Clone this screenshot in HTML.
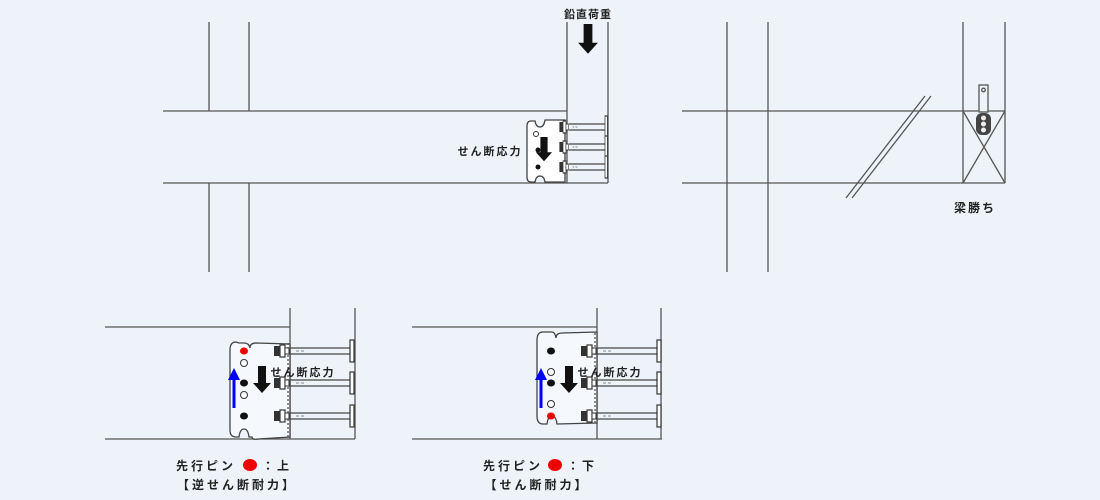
<!DOCTYPE html>
<html><head><meta charset="utf-8"><style>
html,body{margin:0;padding:0;background:#eef3fa;}
svg{display:block}
text{font-family:"Liberation Sans","Noto Sans CJK JP",sans-serif;fill:#222;font-weight:bold;}
</style></head><body>
<svg width="1100" height="500" viewBox="0 0 1100 500" xmlns="http://www.w3.org/2000/svg">
<defs>
<g id="bolt">
 <rect x="-16" y="-5" width="6" height="10" fill="#333"/>
 <rect x="-10" y="-6" width="5" height="12" fill="#fff" stroke="#333" stroke-width="1.2"/>
 <rect x="-5" y="-3" width="4" height="6" fill="#fff" stroke="#333" stroke-width="1"/>
 <line x1="0" y1="-3" x2="60" y2="-3" stroke="#444" stroke-width="1.2"/>
 <line x1="0" y1="3" x2="60" y2="3" stroke="#444" stroke-width="1.2"/>
 <line x1="6" y1="0" x2="16" y2="0" stroke="#666" stroke-width="0.8" stroke-dasharray="3,2"/>
 <rect x="60" y="-11" width="4" height="22" fill="#fff" stroke="#333" stroke-width="1.2"/>
</g>
<g id="barrow"><polygon points="-4,0 4,0 4,17 9,17 0,27 -9,17 -4,17" fill="#111"/></g>
</defs>
<g stroke="#555" stroke-width="1.3" fill="none">
 <line x1="209" y1="22" x2="209" y2="111"/><line x1="249" y1="22" x2="249" y2="111"/>
 <line x1="209" y1="183" x2="209" y2="272"/><line x1="249" y1="183" x2="249" y2="272"/>
 <line x1="163" y1="111" x2="567" y2="111"/><line x1="163" y1="183" x2="608" y2="183"/>
 <line x1="567" y1="22" x2="567" y2="183"/><line x1="608" y1="22" x2="608" y2="183"/>
 <path d="M531,121 Q527,121 527,126 L527,177 Q527,182 531,182 L535,182 Q536,176 540,176 Q544,176 545,182 L565,182 L565,120 L545,120 Q544,127 540,127 Q536,127 535,121 Z" fill="#fff" stroke="#444"/>
 <line x1="565" y1="121" x2="565" y2="182" stroke-dasharray="2,2"/>
 <line x1="727" y1="22" x2="727" y2="272"/><line x1="768" y1="22" x2="768" y2="272"/>
 <line x1="682" y1="111" x2="1005" y2="111"/><line x1="682" y1="183" x2="1005" y2="183"/>
 <line x1="963" y1="22" x2="963" y2="183"/><line x1="1005" y1="22" x2="1005" y2="183"/>
 <line x1="963" y1="111" x2="1005" y2="183"/><line x1="1005" y1="111" x2="963" y2="183"/>
 <line x1="846" y1="198" x2="925" y2="96"/><line x1="852" y1="198" x2="931" y2="96"/>
 <rect x="979" y="85" width="9" height="27" fill="#eef3fa"/>
 <circle cx="983.5" cy="90" r="1.8"/>
 <line x1="105" y1="327" x2="290" y2="327"/><line x1="105" y1="439" x2="355" y2="439"/>
 <line x1="290" y1="308" x2="290" y2="439"/><line x1="355" y1="308" x2="355" y2="439"/>
 <path d="M236,342 Q230,342 230,350 L230,430 Q230,437 236,437 L239,437 Q240,429 244,429 Q248,429 249,437 L252,437 Q252,440 258,439 L290,437 L290,344 L256,343 Q250,343 250,348 Q249,343 244,343 Q240,343 239,343 Z" fill="#f5f8fc" stroke="#444"/>
 <line x1="288" y1="343" x2="288" y2="438" stroke-dasharray="2,2"/>
 <line x1="412" y1="327" x2="597" y2="327"/><line x1="412" y1="439" x2="662" y2="439"/>
 <line x1="597" y1="308" x2="597" y2="439"/><line x1="661" y1="308" x2="661" y2="439"/>
 <path d="M543,332 Q537,332 537,340 L537,416 Q537,424 543,424 L547,424 Q548,416 552,416 Q556,416 557,424 L597,423 L597,332 L562,333 Q556,333 556,338 Q555,332 552,332 Q547,332 543,332 Z" fill="#f5f8fc" stroke="#444"/>
 <line x1="595" y1="333" x2="595" y2="424" stroke-dasharray="2,2"/>
</g>
<rect x="976" y="113" width="15" height="22" rx="6" fill="#444"/>
<circle cx="983.5" cy="118" r="2.5" fill="#eee"/><circle cx="983.5" cy="124" r="2.5" fill="#eee"/><circle cx="983.5" cy="130" r="2.5" fill="#eee"/>
<g transform="translate(569,127) scale(0.6,1)"><use href="#bolt"/></g>
<g transform="translate(569,147) scale(0.6,1)"><use href="#bolt"/></g>
<g transform="translate(569,167) scale(0.6,1)"><use href="#bolt"/></g>
<circle cx="536" cy="134" r="2.5" fill="#fff" stroke="#333"/>
<circle cx="538" cy="150" r="2.5" fill="#111"/><circle cx="538" cy="167" r="2.5" fill="#111"/>
<g transform="translate(544,137) scale(0.9)"><use href="#barrow"/></g>
<g transform="translate(588,24) scale(1.1)"><use href="#barrow"/></g>
<use href="#bolt" x="290" y="351"/><use href="#bolt" x="290" y="383"/><use href="#bolt" x="290" y="416"/>
<use href="#bolt" x="597" y="351"/><use href="#bolt" x="597" y="383"/><use href="#bolt" x="597" y="416"/>
<ellipse cx="244" cy="351" rx="4" ry="3.5" fill="#e00"/>
<circle cx="244" cy="363" r="3.5" fill="#fff" stroke="#333"/>
<ellipse cx="244" cy="383" rx="4" ry="3.5" fill="#111"/>
<circle cx="244" cy="395" r="3.5" fill="#fff" stroke="#333"/>
<ellipse cx="244" cy="416" rx="4" ry="3.5" fill="#111"/>
<line x1="234" y1="408" x2="234" y2="378" stroke="#00f" stroke-width="3"/>
<polygon points="228,380 240,380 234,368" fill="#00f"/>
<g transform="translate(262,366)"><use href="#barrow"/></g>
<ellipse cx="551" cy="351" rx="4" ry="3.5" fill="#111"/>
<circle cx="551" cy="372" r="3.5" fill="#fff" stroke="#333"/>
<ellipse cx="551" cy="383" rx="4" ry="3.5" fill="#111"/>
<circle cx="551" cy="404" r="3.5" fill="#fff" stroke="#333"/>
<ellipse cx="551" cy="416" rx="4" ry="3.5" fill="#e00"/>
<line x1="541" y1="408" x2="541" y2="378" stroke="#00f" stroke-width="3"/>
<polygon points="535,380 547,380 541,368" fill="#00f"/>
<g transform="translate(569,366)"><use href="#barrow"/></g>
<text x="588" y="18" font-size="11" text-anchor="middle" letter-spacing="1">鉛直荷重</text>
<text x="490" y="155" font-size="11" text-anchor="middle" letter-spacing="2">せん断応力</text>
<text x="975" y="212" font-size="12" text-anchor="middle" letter-spacing="2">梁勝ち</text>
<text x="303" y="376" font-size="11" text-anchor="middle" letter-spacing="2">せん断応力</text>
<text x="610" y="376" font-size="11" text-anchor="middle" letter-spacing="2">せん断応力</text>
<text x="206" y="470" font-size="12" text-anchor="middle" letter-spacing="3">先行ピン</text>
<ellipse cx="250" cy="465" rx="7" ry="6" fill="#e00"/>
<text x="277" y="470" font-size="12" text-anchor="middle" letter-spacing="3">：上</text>
<text x="237" y="489" font-size="12" text-anchor="middle" letter-spacing="3">【逆せん断耐力】</text>
<text x="513" y="470" font-size="12" text-anchor="middle" letter-spacing="3">先行ピン</text>
<ellipse cx="555" cy="465" rx="7" ry="6" fill="#e00"/>
<text x="582" y="470" font-size="12" text-anchor="middle" letter-spacing="3">：下</text>
<text x="537" y="489" font-size="12" text-anchor="middle" letter-spacing="3">【せん断耐力】</text>
</svg>
</body></html>
